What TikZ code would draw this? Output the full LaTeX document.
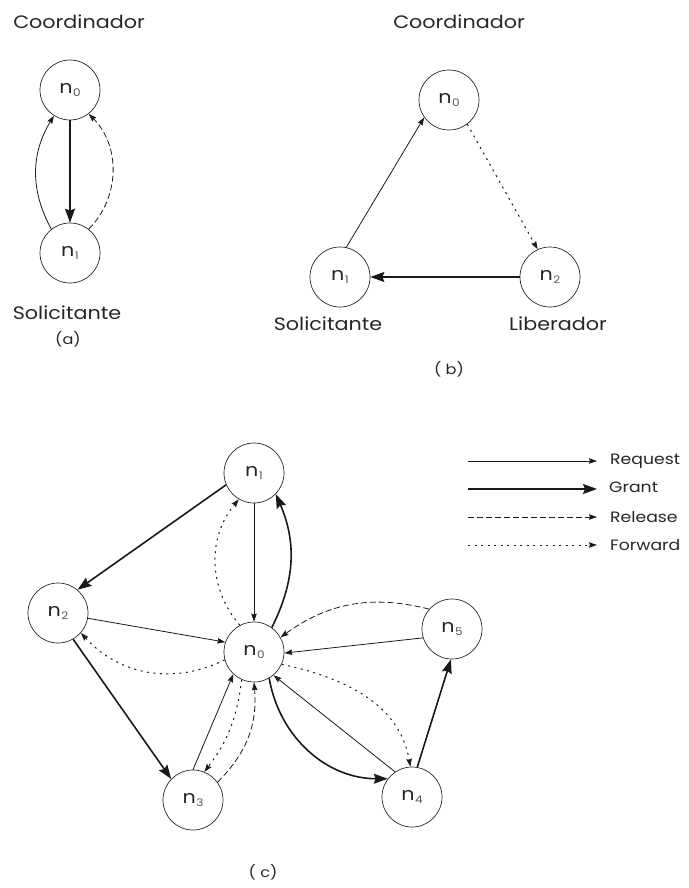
\documentclass[tikz,border=0pt]{standalone}
\usepackage{fontspec}
\setmainfont{Poppins}[FakeStretch=1.15]
\usetikzlibrary{arrows.meta}

% process label: n with a small lowered index
\newcommand\procname[1]{n\kern0.5pt\raisebox{-0.35ex}{\fontsize{10.5}{10.5}\selectfont\color{black!65}#1}}

\begin{document}
\begin{tikzpicture}[x=1pt,y=-1pt,
  proc/.style={circle,draw=black!85,line width=0.7pt,minimum size=60pt,inner sep=0pt,
               text=black!85,font=\fontsize{18}{18}\selectfont},
  lbl/.style={font=\fontsize{18}{18}\selectfont,text=black!85,inner sep=0pt},
  keylbl/.style={font=\fontsize{15}{15}\selectfont,text=black!85,inner sep=0pt,anchor=west},
  subcap/.style={font=\fontsize{14}{14}\selectfont,text=black!85,inner sep=0pt},
  req/.style={draw=black!90,line width=0.8pt,-{Stealth[length=8pt,width=5.5pt,inset=1pt]}},
  grant/.style={draw=black!90,line width=1.6pt,-{Stealth[length=14pt,width=10pt,inset=2pt]}},
  rel/.style={req,dash pattern=on 6pt off 3pt},
  fwd/.style={req,line width=1pt,dash pattern=on 2pt off 4.5pt},
]
\useasboundingbox (0,0) rectangle (688,888);

% ---------------- (a) ----------------
\node[lbl] (ta) at (79,22) {Coordinador};
\node[proc] (a0) at (70,90) {\procname{0}};
\node[proc] (a1) at (70,253) {\procname{1}};
\node[lbl] (sa) at (67,313) {Solicitante};
\node[subcap] (ca) at (68,339) {(a)};
\draw[grant] (a0.270) -- (a1.90);
\draw[req] (a1.128) to[bend left=30] (a0.238);
\draw[rel] (a1.52) to[bend right=45] (a0.308);

% ---------------- (b) ----------------
\node[lbl] (tb) at (459,22) {Coordinador};
\node[proc] (b0) at (449,100) {\procname{0}};
\node[proc] (b1) at (340,277) {\procname{1}};
\node[proc] (b2) at (550,277) {\procname{2}};
\node[lbl] (sb) at (328,324) {Solicitante};
\node[lbl] (lb) at (558,324) {Liberador};
\node[subcap] (cb) at (449,369) {( b)};
\draw[req] (b1.78) -- (b0.215);
\draw[fwd] (b0.307) -- (b2.114);
\draw[grant] (b2.180) -- (b1.0);

% ---------------- (c) ----------------
\node[proc] (c0) at (254,652) {\procname{0}};
\node[proc] (c1) at (254,473) {\procname{1}};
\node[proc] (c2) at (58,613) {\procname{2}};
\node[proc] (c3) at (193,800) {\procname{3}};
\node[proc] (c4) at (412,797) {\procname{4}};
\node[proc] (c5) at (452,629) {\procname{5}};
\node[subcap] (cc) at (263,872) {( c)};

% n1 and n2
\draw[grant] (c1.203) -- (c2.50);
\draw[req] (c1.270) -- (c0.90);
\draw[grant] (c0.54) to[bend right=25] (c1.316);
\draw[fwd] (c0.118) to[bend left=40] (c1.240);
\draw[req] (c2.350) -- (c0.161);
\draw[fwd] (c0.195) to[bend left=37] (c2.319);
% n3
\draw[grant] (c2.300) -- (c3.136);
\draw[req] (c3.90) -- (c0.227);
\draw[fwd] (c0.246) to[bend left=15] (c3.68);
\draw[rel] (c3.36) to[bend right=25] (c0.270);
% n4 and n5
\draw[grant] (c0.300) to[out=-80,in=180] (c4.143);
\draw[req] (c4.124) -- (c0.310);
\draw[fwd] (c0.336) to[out=-12,in=100] (c4.93);
\draw[grant] (c4.80) -- (c5.268);
\draw[req] (c5.197) -- (c0.-2);
\draw[rel] (c5.139) to[bend right=25] (c0.29);

% ---------------- legend ----------------
\coordinate (k1a) at (468,461); \coordinate (k1b) at (597,461);
\coordinate (k2a) at (468,489); \coordinate (k2b) at (597,489);
\coordinate (k3a) at (468,517); \coordinate (k3b) at (597,517);
\coordinate (k4a) at (468,545); \coordinate (k4b) at (597,545);
\draw[req] (k1a) -- (k1b);
\draw[grant] (k2a) -- (k2b);
\draw[rel] (k3a) -- (k3b);
\draw[fwd] (k4a) -- (k4b);
\node[keylbl] (l1) at (610,461) {Request};
\node[keylbl] (l2) at (609,487) {Grant};
\node[keylbl] (l3) at (610,517) {Release};
\node[keylbl] (l4) at (610,545) {Forward};
\end{tikzpicture}
\end{document}
